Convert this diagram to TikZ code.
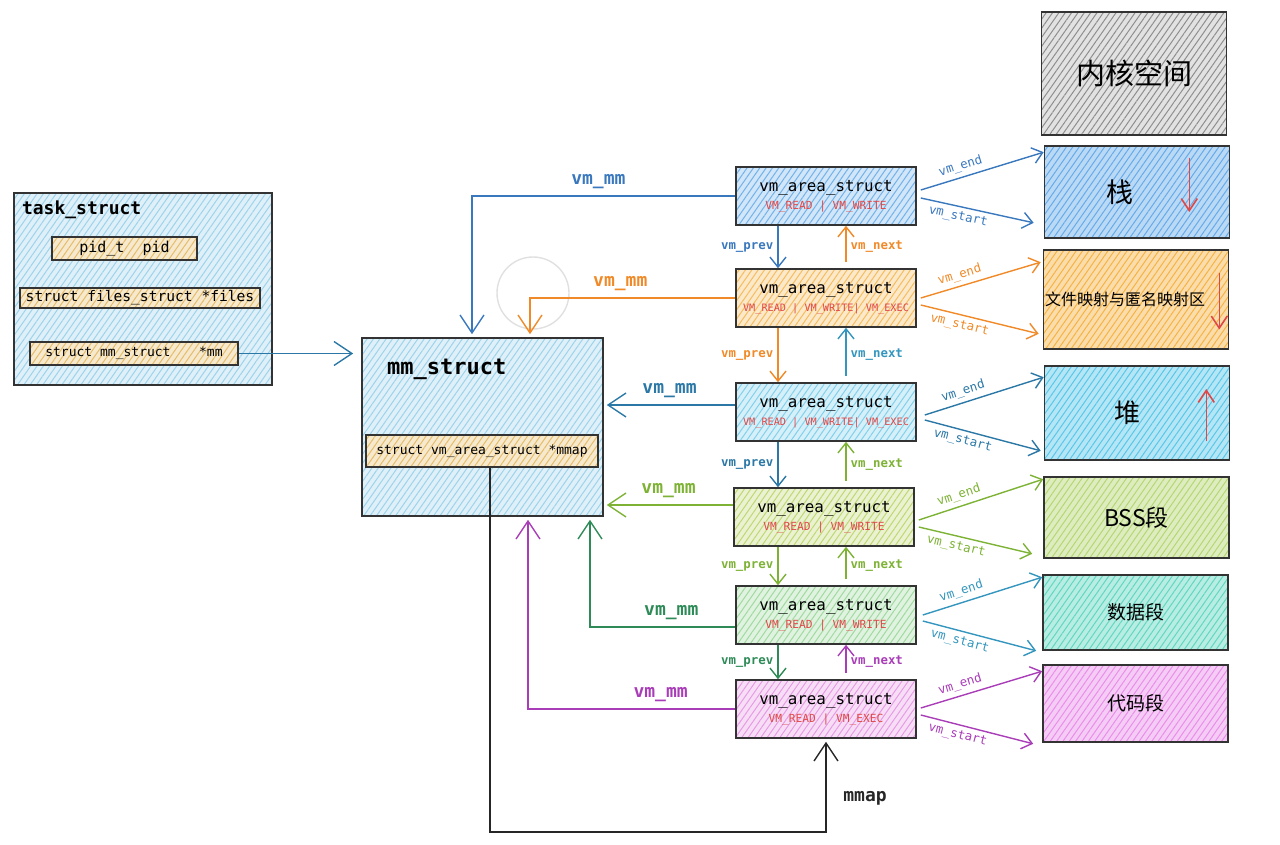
\documentclass[tikz,border=0pt]{standalone}
\usepackage{fontspec}
\setmonofont{DejaVu Sans Mono}
\newfontfamily\cjk{Noto Sans CJK SC}
\usetikzlibrary{arrows.meta,patterns.meta}

\definecolor{cBlue}{HTML}{3A78BE}
\definecolor{cOrange}{HTML}{F08A28}
\definecolor{cSteel}{HTML}{2B78A6}
\definecolor{cTeal}{HTML}{3496BE}
\definecolor{cLime}{HTML}{7DB234}
\definecolor{cGreen}{HTML}{2E8B57}
\definecolor{cPurple}{HTML}{A93DB8}
\definecolor{cRed}{HTML}{E04848}
\definecolor{fSky}{HTML}{8CCBE8}
\definecolor{fTan}{HTML}{E0B050}
\definecolor{fV1}{HTML}{5AA5E6}
\definecolor{fV2}{HTML}{F5B042}
\definecolor{fV3}{HTML}{6CC8E8}
\definecolor{fV4}{HTML}{B5D15A}
\definecolor{fV5}{HTML}{8FD48F}
\definecolor{fV6}{HTML}{E28AE0}
\definecolor{fKer}{HTML}{7A7A7A}
\definecolor{fStk}{HTML}{4A9BE6}
\definecolor{fMap}{HTML}{F5A623}
\definecolor{fHeap}{HTML}{3BBDE5}
\definecolor{fBss}{HTML}{A8CF5A}
\definecolor{fData}{HTML}{45D0B5}
\definecolor{fCode}{HTML}{E67AE6}

\begin{document}
\begin{tikzpicture}[x=0.5pt,y=-0.5pt,
    hbox/.style={draw=black!80, line width=0.8pt, inner sep=0pt, preaction={fill=#1!28},
      pattern={Lines[angle=55,distance=2.6pt,line width=0.5pt]}, pattern color=#1!85},
    region/.style={hbox=#1, preaction={fill=#1!38}, minimum width=92.5pt, font=\cjk},
    vma/.style={hbox=#1, minimum width=90pt, minimum height=29pt, align=center,
      font=\ttfamily\fontsize{7.9}{10}\selectfont},
    field/.style={hbox=fTan, font=\ttfamily\fontsize{6.5}{7}\selectfont},
    link/.style={line width=0.7pt, -{Straight Barb[length=5pt,width=8pt]}},
    big/.style={line width=0.7pt, shorten >=1.5pt, -{Straight Barb[length=9pt,width=12pt]}},
    lbl/.style={font=\ttfamily\bfseries\fontsize{9}{10}\selectfont},
    small/.style={font=\ttfamily\fontsize{6.2}{7}\selectfont, inner sep=2pt},
    smallb/.style={small, font=\ttfamily\bfseries\fontsize{6.2}{7}\selectfont},
    growarrow/.style={cRed, line width=0.8pt, -{Straight Barb[length=6pt,width=8pt]}},
  ]
  \useasboundingbox (0,0) rectangle (1280,845);

  % task_struct and mm_struct
  \node[hbox=fSky, minimum width=129pt, minimum height=96pt] (task) at (143,289) {};
  \node[anchor=west, font=\ttfamily\bfseries\fontsize{9}{10}\selectfont] (tasktitle) at (15,210) {task\_struct};
  \node[field, minimum width=72.5pt, minimum height=11.5pt, font=\ttfamily\fontsize{7.5}{8}\selectfont] (fpid) at (124.5,248.5) {pid\_t\ \ pid};
  \node[field, minimum width=120pt, minimum height=10pt, font=\ttfamily\fontsize{7.3}{8}\selectfont] (ffiles) at (140,298) {struct files\_struct *files};
  \node[field, minimum width=104pt, minimum height=11.5pt] (fmm) at (134,353.5) {struct mm\_struct\hspace{2.2em}*mm};

  \node[hbox=fSky, minimum width=120.5pt, minimum height=89pt] (mm) at (482.5,427) {};
  \node[anchor=west, font=\ttfamily\bfseries\fontsize{11}{12}\selectfont] (mmtitle) at (380,369) {mm\_struct};
  \node[field, minimum width=116pt, minimum height=16pt] (fmmap) at (482,451) {struct vm\_area\_struct *mmap};

  % vm_area_struct chain
  \node[vma=fV1] (v1) at (826,196) {vm\_area\_struct\\[-1pt]{\fontsize{5.6}{6}\selectfont\color{cRed}VM\_READ | VM\_WRITE}};
  \node[vma=fV2] (v2) at (826,298) {vm\_area\_struct\\[-1pt]{\fontsize{5.1}{6}\selectfont\color{cRed}VM\_READ | VM\_WRITE| VM\_EXEC}};
  \node[vma=fV3] (v3) at (826,412) {vm\_area\_struct\\[-1pt]{\fontsize{5.1}{6}\selectfont\color{cRed}VM\_READ | VM\_WRITE| VM\_EXEC}};
  \node[vma=fV4] (v4) at (824,517) {vm\_area\_struct\\[-1pt]{\fontsize{5.6}{6}\selectfont\color{cRed}VM\_READ | VM\_WRITE}};
  \node[vma=fV5] (v5) at (826,615) {vm\_area\_struct\\[-1pt]{\fontsize{5.6}{6}\selectfont\color{cRed}VM\_READ | VM\_WRITE}};
  \node[vma=fV6] (v6) at (826,709) {vm\_area\_struct\\[-1pt]{\fontsize{5.6}{6}\selectfont\color{cRed}VM\_READ | VM\_EXEC}};

  % memory regions
  \node[region=fKer, preaction={fill=fKer!22}, minimum height=61.5pt, font=\cjk\fontsize{14.5}{16}\selectfont] (r0) at (1134,73.5) {内核空间};
  \node[region=fStk, minimum height=46pt, font=\cjk\fontsize{13.5}{15}\selectfont] (r1) at (1137,192) {栈\hspace*{17pt}};
  \node[region=fMap, minimum height=49.5pt, font=\cjk\fontsize{8}{9}\selectfont] (r2) at (1136,299.5) {文件映射与匿名映射区\hspace*{11pt}};
  \node[region=fHeap, minimum height=47pt, font=\cjk\fontsize{13}{15}\selectfont] (r3) at (1137,413) {堆\hspace*{10pt}};
  \node[region=fBss, minimum height=40.5pt, font=\cjk\fontsize{11.5}{13}\selectfont] (r4) at (1136.5,517.5) {BSS段};
  \node[region=fData, minimum height=37.5pt, font=\cjk\fontsize{9.5}{11}\selectfont] (r5) at (1135.5,612.5) {数据段};
  \node[region=fCode, minimum height=38.5pt, font=\cjk\fontsize{9.5}{11}\selectfont] (r6) at (1135.5,703.5) {代码段};

  \draw[growarrow] ([xshift=-20.5pt,yshift=17pt]r1.east) -- ([xshift=-20.5pt,yshift=-10pt]r1.east);
  \draw[growarrow] ([xshift=-5pt,yshift=13pt]r2.east) -- ([xshift=-5pt,yshift=-15pt]r2.east);
  \draw[growarrow] ([xshift=-12pt,yshift=-14pt]r3.east) -- ([xshift=-12pt,yshift=12pt]r3.east);

  % faint highlight circle
  \draw[black!12, line width=0.7pt] (533,293) circle[radius=18pt];

  % task_struct -> mm_struct
  \draw[big, cSteel, shorten >=4pt] (fmm.east) -- (mm.west |- fmm.east);

  % vm_mm back pointers
  \coordinate (a3) at ([yshift=3.5pt]v3.west);
  \coordinate (a4) at ([yshift=6pt]v4.west);
  \coordinate (a5) at ([yshift=-6pt]v5.west);
  \draw[big, cBlue] (v1.west) -| ([xshift=-5.25pt]mm.north) node[lbl, pos=0.26, above] {vm\_mm};
  \draw[big, cOrange] (v2.west) -| ([xshift=23.75pt]mm.north) node[lbl, pos=0.28, above] {vm\_mm};
  \draw[big, cSteel] (a3) -- (mm.east |- a3) node[lbl, midway, above] {vm\_mm};
  \draw[big, cLime] (a4) -- (mm.east |- a4) node[lbl, midway, above] {vm\_mm};
  \draw[big, cGreen] (a5) -| ([xshift=53.75pt]mm.south) node[lbl, pos=0.22, above] {vm\_mm};
  \draw[big, cPurple] (v6.west) -| ([xshift=22.75pt]mm.south) node[lbl, pos=0.18, above] {vm\_mm};

  % mmap
  \coordinate (mbot) at (490,832);
  \draw[big, black!85] ([xshift=4pt]fmmap.south) -- (mbot) -| (v6.south)
    node[lbl, black!85, pos=0.68, right=5pt] {mmap};

  % vm_prev / vm_next
  \draw[link, cBlue] ([xshift=-24pt]v1.south) -- ([xshift=-24pt]v2.north) node[smallb, midway, left] {vm\_prev};
  \draw[link, cOrange, shorten <=3pt] ([xshift=10pt]v2.north) -- ([xshift=10pt]v1.south) node[smallb, midway, right] {vm\_next};
  \draw[link, cOrange] ([xshift=-24pt]v2.south) -- ([xshift=-24pt]v3.north) node[smallb, midway, left] {vm\_prev};
  \draw[link, cTeal, shorten <=3pt] ([xshift=10pt]v3.north) -- ([xshift=10pt]v2.south) node[smallb, midway, right] {vm\_next};
  \draw[link, cSteel] ([xshift=-24pt]v3.south) -- ([xshift=-23pt]v4.north) node[smallb, midway, left] {vm\_prev};
  \draw[link, cLime, shorten <=3pt] ([xshift=11pt]v4.north) -- ([xshift=10pt]v3.south) node[smallb, midway, right] {vm\_next};
  \draw[link, cLime] ([xshift=-23pt]v4.south) -- ([xshift=-24pt]v5.north) node[smallb, midway, left] {vm\_prev};
  \draw[link, cLime, shorten <=3pt] ([xshift=10pt]v5.north) -- ([xshift=11pt]v4.south) node[smallb, midway, right] {vm\_next};
  \draw[link, cGreen] ([xshift=-24pt]v5.south) -- ([xshift=-24pt]v6.north) node[smallb, midway, left] {vm\_prev};
  \draw[link, cPurple, shorten <=3pt] ([xshift=10pt]v6.north) -- ([xshift=10pt]v5.south) node[smallb, midway, right] {vm\_next};

  % vm_end / vm_start
  \draw[link, cBlue] ([xshift=2pt,yshift=3pt]v1.east) -- ([yshift=-3.5pt]r1.north west) node[small, sloped, above, pos=0.35] {vm\_end};
  \draw[link, cBlue] ([xshift=2pt,yshift=-1pt]v1.east) -- ([xshift=-5pt,yshift=8pt]r1.south west) node[small, sloped, below, pos=0.35] {vm\_start};
  \draw[link, cOrange] ([xshift=2pt,yshift=0pt]v2.east) -- ([xshift=-1pt,yshift=-6.5pt]r2.north west) node[small, sloped, above, pos=0.35] {vm\_end};
  \draw[link, cOrange] ([xshift=2pt,yshift=-3.5pt]v2.east) -- ([xshift=-2pt,yshift=8pt]r2.south west) node[small, sloped, below, pos=0.35] {vm\_start};
  \draw[link, cSteel] ([xshift=4pt,yshift=-1.5pt]v3.east) -- ([yshift=-6pt]r3.north west) node[small, sloped, above, pos=0.35] {vm\_end};
  \draw[link, cSteel] ([xshift=4pt,yshift=-4pt]v3.east) -- ([xshift=-1.5pt,yshift=5pt]r3.south west) node[small, sloped, below, pos=0.35] {vm\_start};
  \draw[link, cLime] ([xshift=2pt,yshift=-1.5pt]v4.east) -- ([yshift=-1.5pt]r4.north west) node[small, sloped, above, pos=0.35] {vm\_end};
  \draw[link, cLime] ([xshift=2pt,yshift=-5pt]v4.east) -- ([xshift=-5.5pt,yshift=2.5pt]r4.south west) node[small, sloped, below, pos=0.35] {vm\_start};
  \draw[link, cTeal] ([xshift=3pt,yshift=0pt]v5.east) -- ([yshift=-1.5pt]r5.north west) node[small, sloped, above, pos=0.35] {vm\_end};
  \draw[link, cTeal] ([xshift=3pt,yshift=-3pt]v5.east) -- ([xshift=-3pt]r5.south west) node[small, sloped, below, pos=0.35] {vm\_start};
  \draw[link, cPurple] ([xshift=2pt,yshift=0.5pt]v6.east) -- ([yshift=-3.5pt]r6.north west) node[small, sloped, above, pos=0.35] {vm\_end};
  \draw[link, cPurple] ([xshift=2pt,yshift=-3pt]v6.east) -- ([xshift=-4.5pt,yshift=-0.5pt]r6.south west) node[small, sloped, below, pos=0.35] {vm\_start};
\end{tikzpicture}
\end{document}
